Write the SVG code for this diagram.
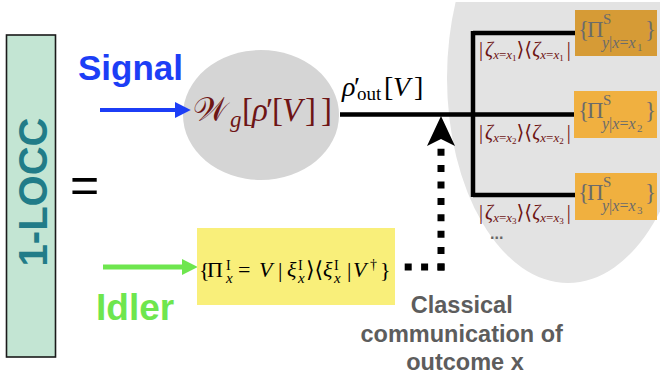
<svg xmlns="http://www.w3.org/2000/svg" width="660" height="383" viewBox="0 0 660 383">
  <style>
    .sans { font-family: "Liberation Sans", Arial, sans-serif; font-weight: bold; }
    .math { font-family: "Liberation Serif", "DejaVu Serif", serif; }
    .it { font-style: italic; }
    .up { font-style: normal; }
    .red { fill: #6e1515; }
    .gray { fill: #6b6b6b; }
    .wire { fill: none; stroke: #000; stroke-width: 4.5; }
    .dots { fill: none; stroke: #000; stroke-width: 7; stroke-dasharray: 7 9.4; }
    .obox { stroke: none; }
  </style>
  <defs>
    <marker id="head-blue" viewBox="0 0 10 10" refX="2" refY="5" markerWidth="4" markerHeight="4" orient="auto" markerUnits="strokeWidth">
      <path d="M0,0 L10,5 L0,10 Z" fill="#1c3ef6"/>
    </marker>
    <marker id="head-green" viewBox="0 0 10 10" refX="2" refY="5" markerWidth="3.2" markerHeight="3.6" orient="auto" markerUnits="strokeWidth">
      <path d="M0,0 L10,5 L0,10 Z" fill="#6ee64e"/>
    </marker>
    <clipPath id="top-cut">
      <rect x="0" y="2" width="660" height="381"/>
    </clipPath>
  </defs>

  <rect width="660" height="383" fill="#ffffff"/>

  <!-- measurement region on the signal side -->
  <ellipse cx="568" cy="78" rx="121" ry="205" fill="#e3e3e3" clip-path="url(#top-cut)"/>

  <!-- 1-LOCC label -->
  <g id="locc">
    <rect x="6.5" y="35" width="49" height="322" fill="#c3e5d3" stroke="#1a1a1a" stroke-width="1.6"/>
    <text class="sans" font-size="40" fill="#217c88" text-anchor="middle" transform="translate(46.5,192) rotate(-90)">1-LOCC</text>
  </g>

  <g id="equals">
    <text font-family="Liberation Sans, Arial, sans-serif" font-size="50" x="70" y="202" fill="#000">=</text>
  </g>

  <!-- signal input -->
  <g id="signal">
    <text class="sans" font-size="35" x="78" y="80" fill="#1c3ef6">Signal</text>
  </g>

  <!-- idler input -->
  <g id="idler">
    <text class="sans" font-size="37" x="96" y="320" fill="#6ee64e">Idler</text>
  </g>

  <!-- channel acting on the signal -->
  <g id="channel">
    <ellipse cx="261" cy="115" rx="78" ry="65" fill="#d5d5d5"/>
    <text class="math red" font-size="33">
      <tspan x="193" y="121">𝒲</tspan>
      <tspan x="230" y="127" font-size="23" class="it">g</tspan>
      <tspan x="242" y="121">[</tspan>
      <tspan x="252" y="121" class="it">ρ</tspan>
      <tspan x="266" y="121">′</tspan>
      <tspan x="272" y="121">[</tspan>
      <tspan x="282" y="121" class="it">V</tspan>
      <tspan x="305" y="121">]</tspan>
      <tspan x="321" y="121">]</tspan>
    </text>
  </g>

  <!-- connectors -->
  <g id="connectors">
    <line x1="100" y1="110" x2="178" y2="110" stroke="#1c3ef6" stroke-width="4" marker-end="url(#head-blue)"/>
    <line x1="103" y1="267" x2="185" y2="267" stroke="#6ee64e" stroke-width="5" marker-end="url(#head-green)"/>
    <path class="wire" d="M340,114.5 H575 M473,31 V197 M473,33 H575 M473,195 H575"/>
    <path class="dots" d="M444.5,267 H396"/>
    <path class="dots" d="M441,270.5 V148"/>
    <path d="M441,116 L455,146 L441,139 L427,146 Z" fill="#000"/>
  </g>

  <!-- output state label -->
  <g id="output-label">
    <text class="math" font-size="28" fill="#000">
      <tspan x="342" y="96" class="it">ρ</tspan>
      <tspan x="354" y="96">′</tspan>
      <tspan x="357" y="100" font-size="19">out</tspan>
      <tspan x="384" y="96">[</tspan>
      <tspan x="393" y="96" class="it">V</tspan>
      <tspan x="414" y="96">]</tspan>
    </text>
  </g>

  <!-- idler measurement -->
  <g id="idler-measurement">
    <rect x="197" y="228" width="198" height="77" fill="#f9ef7a"/>
    <text class="math" font-size="22" fill="#000">
      <tspan x="199" y="277">{</tspan>
      <tspan x="207" y="277">Π</tspan>
      <tspan x="226" y="270" font-size="14">I</tspan>
      <tspan x="226" y="283" font-size="15" class="it">x</tspan>
      <tspan x="238" y="277">=</tspan>
      <tspan x="259" y="277" class="it">V</tspan>
      <tspan x="278" y="277">|</tspan>
      <tspan x="287" y="277" class="it">ξ</tspan>
      <tspan x="298" y="270" font-size="14">I</tspan>
      <tspan x="298" y="283" font-size="15" class="it">x</tspan>
      <tspan x="306" y="277">⟩⟨</tspan>
      <tspan x="323" y="277" class="it">ξ</tspan>
      <tspan x="334" y="270" font-size="14">I</tspan>
      <tspan x="334" y="283" font-size="15" class="it">x</tspan>
      <tspan x="347" y="277">|</tspan>
      <tspan x="353" y="277" class="it">V</tspan>
      <tspan x="370" y="269" font-size="14">†</tspan>
      <tspan x="380" y="277">}</tspan>
    </text>
  </g>

  <!-- conditional signal measurements -->
  <g id="outcome-1">
    <rect class="obox" x="575" y="10" width="82" height="46" fill="#d69b36"/>
    <text class="math gray" font-size="23">
      <tspan x="578" y="37">{</tspan>
      <tspan x="587" y="37">Π</tspan>
      <tspan x="603" y="24" font-size="15" class="up">S</tspan>
      <tspan x="602" y="48" font-size="16"><tspan class="it">y</tspan>|<tspan class="it">x</tspan>=<tspan class="it">x</tspan></tspan>
      <tspan x="637" y="51" font-size="11">1</tspan>
      <tspan x="645" y="37">}</tspan>
    </text>
    <text class="math red" font-size="20" x="479" y="56">|<tspan dx="2" class="it">ζ</tspan><tspan font-size="13" dy="3"><tspan class="it">x</tspan>=<tspan class="it">x</tspan></tspan><tspan font-size="9" dy="2">1</tspan><tspan dy="-5">⟩⟨</tspan><tspan class="it">ζ</tspan><tspan font-size="13" dy="3"><tspan class="it">x</tspan>=<tspan class="it">x</tspan></tspan><tspan font-size="9" dy="2">1</tspan><tspan dx="3" dy="-5">|</tspan></text>
  </g>

  <g id="outcome-2">
    <rect class="obox" x="574" y="91" width="83" height="47" fill="#f0b040"/>
    <text class="math gray" font-size="23">
      <tspan x="578" y="118">{</tspan>
      <tspan x="587" y="118">Π</tspan>
      <tspan x="603" y="105" font-size="15" class="up">S</tspan>
      <tspan x="602" y="129" font-size="16"><tspan class="it">y</tspan>|<tspan class="it">x</tspan>=<tspan class="it">x</tspan></tspan>
      <tspan x="637" y="132" font-size="11">2</tspan>
      <tspan x="645" y="118">}</tspan>
    </text>
    <text class="math red" font-size="20" x="479" y="139">|<tspan dx="2" class="it">ζ</tspan><tspan font-size="13" dy="3"><tspan class="it">x</tspan>=<tspan class="it">x</tspan></tspan><tspan font-size="9" dy="2">2</tspan><tspan dy="-5">⟩⟨</tspan><tspan class="it">ζ</tspan><tspan font-size="13" dy="3"><tspan class="it">x</tspan>=<tspan class="it">x</tspan></tspan><tspan font-size="9" dy="2">2</tspan><tspan dx="3" dy="-5">|</tspan></text>
  </g>

  <g id="outcome-3">
    <rect class="obox" x="575" y="173" width="82" height="47" fill="#f0b03f"/>
    <text class="math gray" font-size="23">
      <tspan x="578" y="200">{</tspan>
      <tspan x="587" y="200">Π</tspan>
      <tspan x="603" y="187" font-size="15" class="up">S</tspan>
      <tspan x="602" y="211" font-size="16"><tspan class="it">y</tspan>|<tspan class="it">x</tspan>=<tspan class="it">x</tspan></tspan>
      <tspan x="637" y="214" font-size="11">3</tspan>
      <tspan x="645" y="200">}</tspan>
    </text>
    <text class="math red" font-size="20" x="479" y="219">|<tspan dx="2" class="it">ζ</tspan><tspan font-size="13" dy="3"><tspan class="it">x</tspan>=<tspan class="it">x</tspan></tspan><tspan font-size="9" dy="2">3</tspan><tspan dy="-5">⟩⟨</tspan><tspan class="it">ζ</tspan><tspan font-size="13" dy="3"><tspan class="it">x</tspan>=<tspan class="it">x</tspan></tspan><tspan font-size="9" dy="2">3</tspan><tspan dx="3" dy="-5">|</tspan></text>
  </g>

  <g id="more-outcomes">
    <text class="sans" font-size="16" x="490" y="239" fill="#666">...</text>
  </g>

  <!-- classical channel caption -->
  <g id="caption">
    <text class="sans" font-size="23.5" fill="#5d5d5d" text-anchor="middle">
      <tspan x="465" y="313">Classical</tspan>
      <tspan x="465" y="342">communication of</tspan>
      <tspan x="465" y="370">outcome x</tspan>
    </text>
  </g>
</svg>
